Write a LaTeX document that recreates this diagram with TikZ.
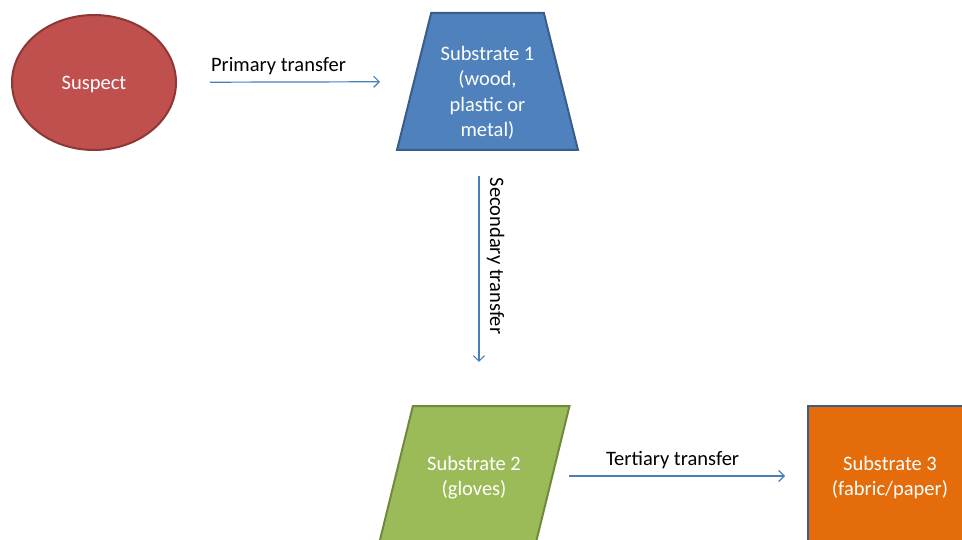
\documentclass[tikz,border=0pt]{standalone}
\usepackage{fontspec}
\setmainfont{Carlito}
\usepackage{xcolor}
\usetikzlibrary{arrows.meta,calc,positioning,shapes.geometric}
\definecolor{suspred}{HTML}{C0504D}
\definecolor{suspedge}{HTML}{8C3836}
\definecolor{subblue}{HTML}{4F81BD}
\definecolor{subedge}{HTML}{385D8A}
\definecolor{subgreen}{HTML}{9BBB59}
\definecolor{greenedge}{HTML}{71893F}
\definecolor{suborange}{HTML}{E46C0A}
\definecolor{flowblue}{HTML}{4A7EBB}
\tikzset{
  box/.style={line width=2pt, inner sep=0pt},
  boxtext/.style={text=white, align=center, inner sep=0pt,
    font=\fontsize{20.5}{25.5}\selectfont},
  flow/.style={->, flowblue, line width=1.2pt},
  flowlabel/.style={text=black, font=\fontsize{20.5}{25.5}\selectfont}
}

\begin{document}
\begin{tikzpicture}[x=1pt, y=-1pt, >={Straight Barb[length=5.5pt,width=11pt]}]
    \useasboundingbox (0,0) rectangle (962,540);
    \clip (0,0) rectangle (962,540);
    % the four substrates
    \node[box, ellipse, fill=suspred, draw=suspedge,
      minimum width=164pt, minimum height=135pt] (susp) at (94,82.5) {};
    \node[box, trapezium, trapezium left angle=76, trapezium right angle=76,
      trapezium stretches body, text height=137pt, text depth=0pt,
      fill=subblue, draw=subedge, minimum width=181pt] (sub1) at (487.5,81.5) {};
    \node[box, trapezium, trapezium left angle=76.2, trapezium right angle=103.8,
      trapezium stretches body, text height=140pt, text depth=0pt,
      fill=subgreen, draw=greenedge, minimum width=191pt] (sub2) at (474,476) {};
    \node[box, rectangle, fill=suborange, draw=subedge,
      minimum width=164pt, minimum height=140pt] (sub3) at (890,476) {};
    % their texts
    \node[boxtext] (susptxt) at ([yshift=-2pt]susp.center) {Suspect};
    \node[boxtext] (sub1txt) at ([yshift=-11.5pt]sub1.center)
      {Substrate 1\\(wood,\\plastic or\\metal)};
    \node[boxtext] (sub2txt) at ([yshift=-1.5pt]sub2.center) {Substrate 2\\(gloves)};
    \node[boxtext] (sub3txt) at ([yshift=-1.5pt]sub3.center) {Substrate 3\\(fabric/paper)};
    % transfers
    \draw[flow, shorten <=33pt, shorten >=33pt] (susp) -- (sub1)
      node[flowlabel, pos=0.43, above=3pt] {Primary transfer};
    \draw[flow] ([xshift=-8.5pt, yshift=-25pt]sub1.south) -- ([xshift=5pt, yshift=43pt]sub2.north)
      node[flowlabel, pos=0.43, above=4pt, sloped] {Secondary transfer};
    \draw[flow, shorten <=16pt, shorten >=22pt] (sub2) -- (sub3)
      node[flowlabel, pos=0.47, above=3pt] {Tertiary transfer};
  \end{tikzpicture}
\end{document}
